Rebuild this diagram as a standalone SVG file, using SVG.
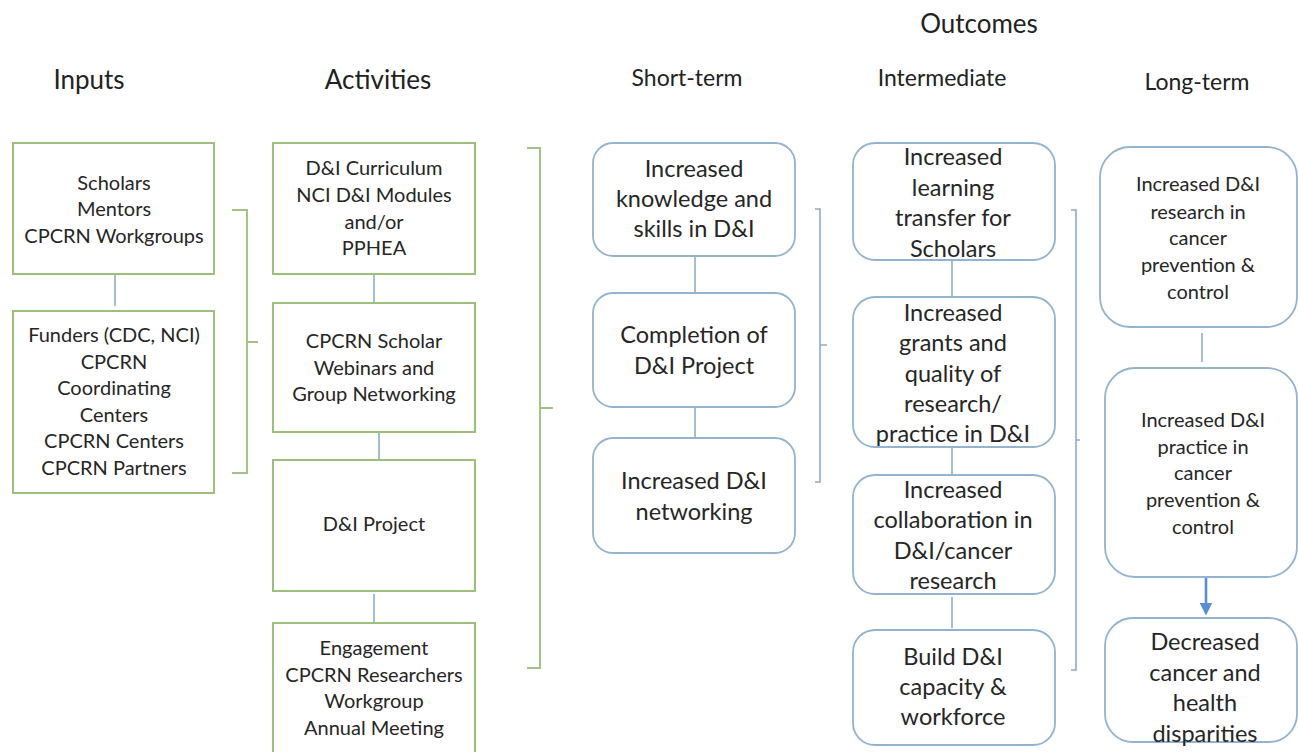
<svg xmlns="http://www.w3.org/2000/svg" width="1298" height="752" viewBox="0 0 1298 752">
  <style>
    .hdr { font-family: Lato, "Liberation Sans", sans-serif; font-size: 23px; fill: #222; text-anchor: middle; }
    .hdrl { font-family: Lato, "Liberation Sans", sans-serif; font-size: 26px; fill: #222; text-anchor: middle; }
    .t { font-family: Lato, "Liberation Sans", sans-serif; font-size: 20px; fill: #262626; text-anchor: middle; }
    .tl { font-family: Lato, "Liberation Sans", sans-serif; font-size: 23.5px; fill: #262626; text-anchor: middle; }
    .ts { font-family: Lato, "Liberation Sans", sans-serif; font-size: 20px; fill: #262626; text-anchor: middle; }
    .gbox { fill: #fff; stroke: #9dbf7a; stroke-width: 2; }
    .bbox { fill: #fff; stroke: #93b3d1; stroke-width: 1.8; }
    .link { stroke: #86a9c9; stroke-width: 1.5; fill: none; }
    .gbr { stroke: #a3c487; stroke-width: 2; fill: none; }
    .bbr { stroke: #8fabc8; stroke-width: 1.6; fill: none; }
  </style>
  <defs>
    <marker id="arrowhead" markerWidth="5" markerHeight="5" refX="2.5" refY="2.5" orient="auto" markerUnits="strokeWidth">
      <path d="M0,0 L5,2.5 L0,5 z" fill="#5a8fcf"/>
    </marker>
  </defs>
  <rect width="1298" height="752" fill="#fff"/>

  <!-- column headings -->
  <g id="headings">
    <text class="hdrl" x="979" y="33">Outcomes</text>
    <text class="hdrl" x="89" y="89">Inputs</text>
    <text class="hdrl" x="378" y="89">Activities</text>
    <text class="hdr" x="687" y="86">Short-term</text>
    <text class="hdr" x="942" y="86">Intermediate</text>
    <text class="hdr" x="1197" y="90">Long-term</text>
  </g>

  <!-- connectors and grouping brackets -->
  <g id="connectors">
    <line class="link" x1="115" y1="274" x2="115" y2="306"/>
    <line class="link" x1="374" y1="274" x2="374" y2="303"/>
    <line class="link" x1="379" y1="432" x2="379" y2="460"/>
    <line class="link" x1="374" y1="594" x2="374" y2="623"/>
    <line class="link" x1="695" y1="256" x2="695" y2="293"/>
    <line class="link" x1="695" y1="407" x2="695" y2="438"/>
    <line class="link" x1="952" y1="260" x2="952" y2="297"/>
    <line class="link" x1="952" y1="447" x2="952" y2="475"/>
    <line class="link" x1="952" y1="597" x2="952" y2="628"/>
    <line class="link" x1="1202" y1="333" x2="1202" y2="362"/>
    <line x1="1206" y1="577" x2="1206" y2="609" stroke="#5a8fcf" stroke-width="2.6" marker-end="url(#arrowhead)"/>
    <path class="gbr" d="M232,210 H247 V473 H232 M247,342 H258"/>
    <path class="gbr" d="M527,148 H540 V668 H527 M540,408 H553"/>
    <path class="bbr" d="M815,209 H820 V482 H815 M820,345 H827"/>
    <path class="bbr" d="M1071,210 H1076 V670 H1071 M1076,440 H1080"/>
  </g>

  <!-- inputs -->
  <g id="input-people">
    <rect class="gbox" x="13" y="143" width="201" height="131"/>
    <text class="t"><tspan x="114" y="190">Scholars</tspan><tspan x="114" y="216">Mentors</tspan><tspan x="114" y="243">CPCRN Workgroups</tspan></text>
  </g>
  <g id="input-funders">
    <rect class="gbox" x="13" y="311" width="201" height="182"/>
    <text class="t"><tspan x="114" y="342">Funders (CDC, NCI)</tspan><tspan x="114" y="369">CPCRN</tspan><tspan x="114" y="395">Coordinating</tspan><tspan x="114" y="422">Centers</tspan><tspan x="114" y="448">CPCRN Centers</tspan><tspan x="114" y="475">CPCRN Partners</tspan></text>
  </g>

  <!-- activities -->
  <g id="act-curriculum">
    <rect class="gbox" x="273" y="143" width="202" height="131"/>
    <text class="t"><tspan x="374" y="175">D&amp;I Curriculum</tspan><tspan x="374" y="202">NCI D&amp;I Modules</tspan><tspan x="374" y="229">and/or</tspan><tspan x="374" y="255">PPHEA</tspan></text>
  </g>
  <g id="act-webinars">
    <rect class="gbox" x="273" y="303" width="202" height="129"/>
    <text class="t"><tspan x="374" y="348">CPCRN Scholar</tspan><tspan x="374" y="375">Webinars and</tspan><tspan x="374" y="401">Group Networking</tspan></text>
  </g>
  <g id="act-project">
    <rect class="gbox" x="273" y="460" width="202" height="131"/>
    <text class="t" x="374" y="531">D&amp;I Project</text>
  </g>
  <g id="act-engagement">
    <rect class="gbox" x="273" y="623" width="202" height="140"/>
    <text class="t"><tspan x="374" y="655">Engagement</tspan><tspan x="374" y="682">CPCRN Researchers</tspan><tspan x="374" y="708">Workgroup</tspan><tspan x="374" y="735">Annual Meeting</tspan></text>
  </g>

  <!-- short-term outcomes -->
  <g id="st-knowledge">
    <rect class="bbox" x="593" y="143" width="202" height="113" rx="20"/>
    <text class="tl"><tspan x="694" y="177">Increased</tspan><tspan x="694" y="207">knowledge and</tspan><tspan x="694" y="237">skills in D&amp;I</tspan></text>
  </g>
  <g id="st-completion">
    <rect class="bbox" x="593" y="293" width="202" height="114" rx="20"/>
    <text class="tl"><tspan x="694" y="343">Completion of</tspan><tspan x="694" y="374">D&amp;I Project</tspan></text>
  </g>
  <g id="st-networking">
    <rect class="bbox" x="593" y="438" width="202" height="115" rx="20"/>
    <text class="tl"><tspan x="694" y="489">Increased  D&amp;I</tspan><tspan x="694" y="520">networking</tspan></text>
  </g>

  <!-- intermediate outcomes -->
  <g id="im-transfer">
    <rect class="bbox" x="853" y="143" width="202" height="117" rx="22"/>
    <text class="tl"><tspan x="953" y="165">Increased</tspan><tspan x="953" y="196">learning</tspan><tspan x="953" y="226">transfer for</tspan><tspan x="953" y="257">Scholars</tspan></text>
  </g>
  <g id="im-grants">
    <rect class="bbox" x="853" y="297" width="202" height="150" rx="22"/>
    <text class="tl"><tspan x="953" y="321">Increased</tspan><tspan x="953" y="351">grants and</tspan><tspan x="953" y="382">quality of</tspan><tspan x="953" y="412">research/</tspan><tspan x="953" y="442">practice in D&amp;I</tspan></text>
  </g>
  <g id="im-collaboration">
    <rect class="bbox" x="853" y="475" width="202" height="119" rx="22"/>
    <text class="tl"><tspan x="953" y="498">Increased</tspan><tspan x="953" y="528">collaboration in</tspan><tspan x="953" y="559">D&amp;I/cancer</tspan><tspan x="953" y="589">research</tspan></text>
  </g>
  <g id="im-capacity">
    <rect class="bbox" x="853" y="630" width="202" height="115" rx="22"/>
    <text class="tl"><tspan x="953" y="665">Build D&amp;I</tspan><tspan x="953" y="695">capacity &amp;</tspan><tspan x="953" y="725">workforce</tspan></text>
  </g>

  <!-- long-term outcomes -->
  <g id="lt-research">
    <rect class="bbox" x="1100" y="147" width="197" height="180" rx="30"/>
    <text class="ts"><tspan x="1198" y="191">Increased D&amp;I</tspan><tspan x="1198" y="219">research in</tspan><tspan x="1198" y="245">cancer</tspan><tspan x="1198" y="272">prevention &amp;</tspan><tspan x="1198" y="299">control</tspan></text>
  </g>
  <g id="lt-practice">
    <rect class="bbox" x="1105" y="368" width="192" height="209" rx="30"/>
    <text class="ts"><tspan x="1203" y="427">Increased D&amp;I</tspan><tspan x="1203" y="454">practice in</tspan><tspan x="1203" y="480">cancer</tspan><tspan x="1203" y="507">prevention &amp;</tspan><tspan x="1203" y="534">control</tspan></text>
  </g>
  <g id="lt-disparities">
    <rect class="bbox" x="1105" y="618" width="192" height="124" rx="28"/>
    <text class="tl"><tspan x="1205" y="650">Decreased</tspan><tspan x="1205" y="681">cancer and</tspan><tspan x="1205" y="711">health</tspan><tspan x="1205" y="742">disparities</tspan></text>
  </g>
</svg>
